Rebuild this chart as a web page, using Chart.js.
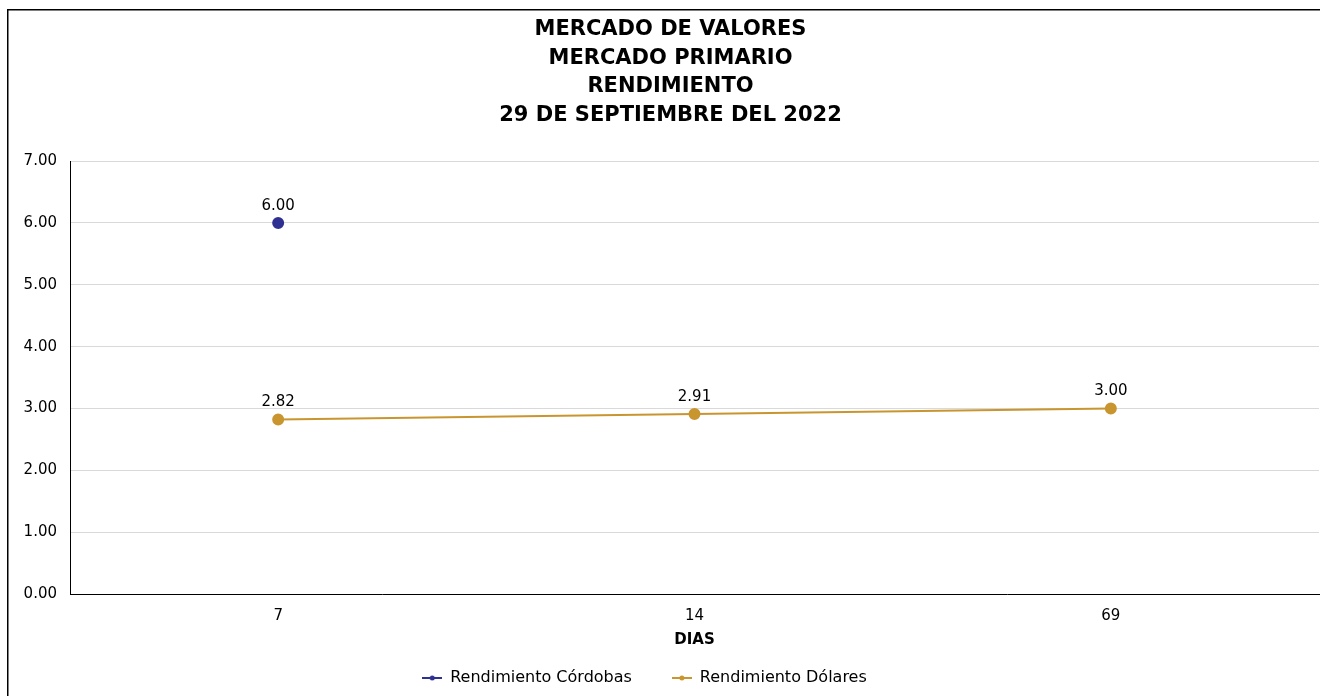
<!DOCTYPE html>
<html>
<head>
<meta charset="utf-8">
<script src="https://cdn.jsdelivr.net/npm/chart.js@4/dist/chart.umd.min.js"></script>
<style>
html,body{margin:0;padding:0;background:#fff;}
#wrap{width:1320px;height:696px;}
</style>
</head>
<body>
<div id="wrap"><canvas id="c" width="1320" height="696"></canvas></div>
<script>
const titleLines = ["MERCADO DE VALORES", "MERCADO PRIMARIO", "RENDIMIENTO", "29 DE SEPTIEMBRE DEL 2022"];
const categories = ["7", "14", "69"];
const seriesNames = ["Rendimiento Córdobas", "Rendimiento Dólares"];
const cordobas = [6.00, null, null];
const dolares = [2.82, 2.91, 3.00];
const yTicks = [0, 1, 2, 3, 4, 5, 6, 7];
const xTitle = "DIAS";

const NAVY = "#2E3192";
const GOLD = "#C9952F";
const FONT = "'DejaVu Sans', Verdana, sans-serif";

function makeMarker(color) {
  const c = document.createElement('canvas');
  c.width = 20; c.height = 8;
  const g = c.getContext('2d');
  g.strokeStyle = color; g.lineWidth = 2;
  g.beginPath(); g.moveTo(0, 4); g.lineTo(20, 4); g.stroke();
  g.fillStyle = color;
  g.beginPath(); g.arc(10, 4, 2.5, 0, Math.PI * 2); g.fill();
  return c;
}
const markers = [makeMarker(NAVY), makeMarker(GOLD)];

const framePlugin = {
  id: 'frame',
  afterLayout(chart) {
    if (chart.legend) { chart.legend.left -= 15; chart.legend.right -= 15; }
    if (chart.titleBlock) { chart.titleBlock.left += 11; chart.titleBlock.right += 11; }
  },
  beforeDraw(chart) {
    const ctx = chart.ctx;
    ctx.save();
    ctx.fillStyle = '#fff';
    ctx.fillRect(0, 0, chart.width, chart.height);
    ctx.strokeStyle = '#000';
    ctx.lineWidth = 1.5;
    ctx.beginPath();
    ctx.moveTo(7.75, chart.height + 2);
    ctx.lineTo(7.75, 9.75);
    ctx.lineTo(chart.width + 2, 9.75);
    ctx.stroke();
    ctx.restore();
  }
};

const labelPlugin = {
  id: 'valueLabels',
  afterDatasetsDraw(chart) {
    const ctx = chart.ctx;
    ctx.save();
    ctx.font = "15px " + FONT;
    ctx.fillStyle = '#000';
    ctx.textAlign = 'center';
    ctx.textBaseline = 'middle';
    chart.data.datasets.forEach((ds, i) => {
      const meta = chart.getDatasetMeta(i);
      meta.data.forEach((pt, j) => {
        const v = ds.data[j];
        if (v === null || v === undefined) return;
        ctx.fillText(v.toFixed(2), pt.x, pt.y - 17);
      });
    });
    ctx.restore();
  }
};

new Chart(document.getElementById('c'), {
  type: 'line',
  data: {
    labels: categories,
    datasets: [
      {
        label: seriesNames[0], data: cordobas,
        borderColor: NAVY, backgroundColor: NAVY,
        pointBackgroundColor: NAVY, pointBorderColor: NAVY,
        borderWidth: 2, pointRadius: 5, pointHoverRadius: 5, tension: 0
      },
      {
        label: seriesNames[1], data: dolares,
        borderColor: GOLD, backgroundColor: GOLD,
        pointBackgroundColor: GOLD, pointBorderColor: GOLD,
        borderWidth: 2, pointRadius: 5, pointHoverRadius: 5, tension: 0
      }
    ]
  },
  options: {
    responsive: false,
    animation: false,
    devicePixelRatio: 1,
    layout: { autoPadding: false, padding: { left: 0, right: 1, top: 0, bottom: 0 } },
    plugins: {
      title: {
        display: true,
        text: titleLines,
        color: '#000',
        font: { family: FONT, size: 21, weight: 'bold', lineHeight: 1.37 },
        padding: { top: 15, bottom: 31 }
      },
      legend: {
        display: true,
        position: 'bottom',
        labels: {
          color: '#000',
          font: { family: FONT, size: 16 },
          usePointStyle: true,
          pointStyleWidth: 20,
          padding: 40,
          generateLabels(chart) {
            return Chart.defaults.plugins.legend.labels.generateLabels(chart).map(l => Object.assign(l, { pointStyle: markers[l.datasetIndex] }));
          }
        }
      },
      tooltip: { enabled: false }
    },
    scales: {
      x: {
        offset: true,
        grid: { display: false, drawTicks: false },
        border: { display: true, color: '#000', width: 1 },
        ticks: { color: '#000', font: { family: FONT, size: 15 }, padding: 13, maxRotation: 0 },
        title: {
          display: true, text: xTitle, color: '#000',
          font: { family: FONT, size: 15, weight: 'bold', lineHeight: 1.2 },
          padding: { top: 0, bottom: -19 }
        },
        afterFit(s) { s.height = 36; }
      },
      y: {
        min: 0, max: 7,
        afterBuildTicks(s) { s.ticks = yTicks.map(v => ({ value: v })); },
        grid: { color: '#D9D9D9', drawTicks: false, lineWidth: 1 },
        border: { display: true, color: '#000', width: 1 },
        ticks: {
          color: '#000', font: { family: FONT, size: 15 }, padding: 13,
          callback(v) { return Number(v).toFixed(2); }
        },
        afterFit(s) { s.width = 70; }
      }
    }
  },
  plugins: [framePlugin, labelPlugin]
});
</script>
</body>
</html>
